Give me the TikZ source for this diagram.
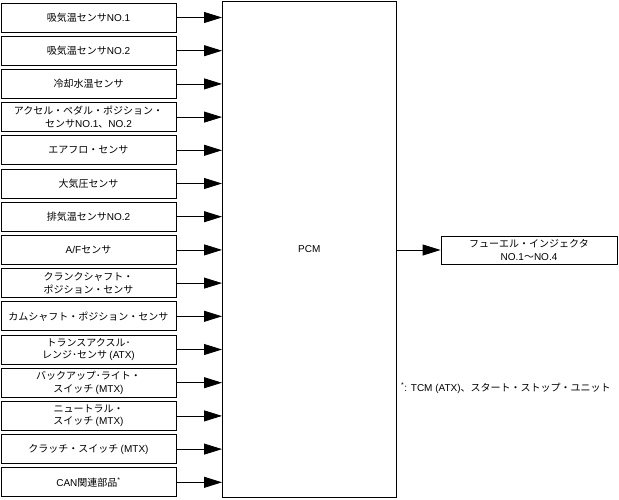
\documentclass[tikz,border=0pt]{standalone}
\usepackage{fontspec}
\setmainfont{Noto Sans CJK JP}
\newfontfamily\lat{Liberation Sans}
\usetikzlibrary{arrows.meta}
\begin{document}
\begin{tikzpicture}[x=1pt,y=-1pt,
  inbox/.style={draw, line width=0.8pt, minimum width=175pt, minimum height=29pt, inner sep=0pt, align=center, font=\fontsize{10}{12.4}\selectfont},
  arr/.style={line width=0.8pt, -{Triangle[length=18pt,width=11pt]}}]
\useasboundingbox (0,0) rectangle (619,499);
\node[draw, line width=1pt, minimum width=173.5pt, minimum height=496.5pt, inner sep=0pt, font=\fontsize{10}{12}\selectfont\lat] (pcm) at (309.25,249.25) {PCM};
\node[inbox] (s1) at (88.5,17.5) {吸気温センサ{\lat NO.1}};
\node[inbox] (s2) at (88.5,50.7) {吸気温センサ{\lat NO.2}};
\node[inbox] (s3) at (88.5,83.9) {冷却水温センサ};
\node[inbox] (s4) at (88.5,117.1) {アクセル・ペダル・ポジション・\\センサ{\lat NO.1}、{\lat NO.2}};
\node[inbox] (s5) at (88.5,150.3) {エアフロ・センサ};
\node[inbox] (s6) at (88.5,183.5) {大気圧センサ};
\node[inbox] (s7) at (88.5,216.7) {排気温センサ{\lat NO.2}};
\node[inbox] (s8) at (88.5,249.9) {{\lat A/F}センサ};
\node[inbox] (s9) at (88.5,283.1) {クランクシャフト・\\ポジション・センサ};
\node[inbox] (s10) at (88.5,316.3) {カムシャフト・ポジション・センサ};
\node[inbox] (s11) at (88.5,349.5) {トランスアクスル･\\レンジ･センサ {\lat (ATX)}};
\node[inbox] (s12) at (88.5,382.7) {バックアップ･ライト・\\スイッチ {\lat (MTX)}};
\node[inbox] (s13) at (88.5,415.9) {ニュートラル・\\スイッチ {\lat (MTX)}};
\node[inbox] (s14) at (88.5,449.1) {クラッチ・スイッチ {\lat (MTX)}};
\node[inbox] (s15) at (88.5,482.3) {{\lat CAN}関連部品{\lat\textsuperscript{*}}};
\foreach \n in {s1,s2,s3,s4,s5,s6,s7,s8,s9,s10,s11,s12,s13,s14,s15}
  \draw[arr] (\n.east) -- (pcm.west |- \n.east);
\node[inbox, minimum width=176pt, minimum height=28pt] (inj) at (529,250) {フューエル・インジェクタ\\{\lat NO.1}〜{\lat NO.4}};
\draw[arr] (pcm.east |- inj.west) -- (inj.west);
\node[anchor=west, inner sep=0pt, font=\fontsize{10}{12}\selectfont] (note) at (401,388) {{\lat\textsuperscript{*}: TCM (ATX)}、スタート・ストップ・ユニット};
\end{tikzpicture}
\end{document}
